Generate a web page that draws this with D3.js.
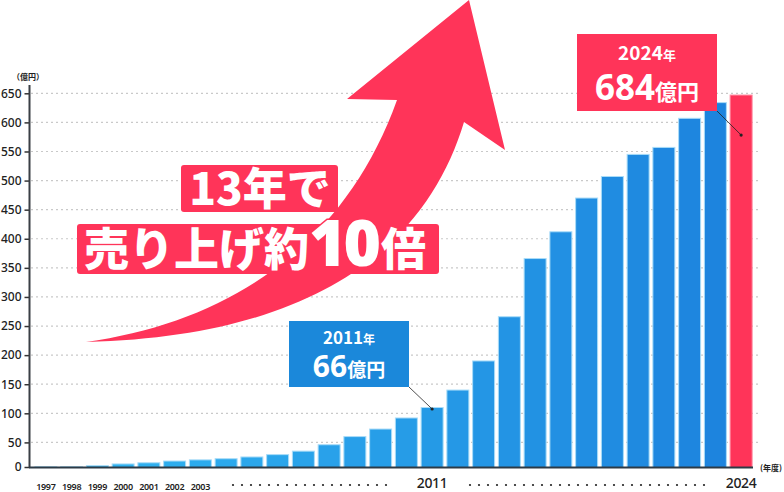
<!DOCTYPE html>
<meta charset="utf-8">
<head>
	<title>売上推移</title>
</head>

<style>
body {
	margin: 0;
	background: #fff;
}
svg {
	display: block;
	font-family: "Noto Sans CJK JP", "Noto Sans", sans-serif;
}
.grid line {
	stroke: #c9c9c9;
	stroke-width: 1.2;
	stroke-dasharray: 2, 3;
}
</style>

<body>
<svg id="chart" width="784" height="492"></svg>

<script src="https://cdnjs.cloudflare.com/ajax/libs/d3/7.8.5/d3.min.js"></script>
<script>

// 年度ごとの売上（目盛り上の値）
var years = ['1997', '1998', '1999', '2000', '2001', '2002', '2003', '2004', '2005', '2006',
	'2007', '2008', '2009', '2010', '2011', '2012', '2013', '2014', '2015', '2016',
	'2017', '2018', '2019', '2020', '2021', '2022', '2023', '2024'];
var sales = [8, 8, 10, 13, 15, 18, 20, 22, 25, 29,
	35, 46, 60, 73, 92, 110, 140, 190, 266, 366,
	412, 470, 507, 545, 557, 607, 634, 647];

var yTicks = [0, 50, 100, 150, 200, 250, 300, 350, 400, 450, 500, 550, 600, 650];

// x軸に出すラベルと、その下に置く棒の番号
var tickText = ['1997', '1998', '1999', '2000', '2001', '2002', '2003', '2011', '2024'];
var tickIdx = [0, 1, 2, 3, 4, 5, 6, 15, 27];

var red = '#ff3459';
var svg = d3.select('#chart');

var x = d3.scaleBand()
	.domain(years)
	.range([33, 754])
	.paddingInner(0.146)
	.paddingOuter(0.073);

var y = d3.scaleLinear()
	.domain([0, 650])
	.range([471.5, 93.3]);

var baseY = 467.5;

// グリッド線
svg.append('g')
	.classed('grid', true)
	.selectAll('line')
	.data(yTicks.filter(function(d) { return d > 0; }))
	.enter()
	.append('line')
	.attr('x1', 31)
	.attr('x2', 758)
	.attr('y1', function(d) { return y(d); })
	.attr('y2', function(d) { return y(d); });

// 右上がりの矢印
svg.append('path')
	.attr('d', 'M86,342 C230,322 345,245 397,100 L347,99 L469,0 L505,150 L464,122 C430,235 330,336 86,342 Z')
	.style('fill', red);

// 棒
var blue = d3.interpolateRgb('#31b7f2', '#1d84de');
svg.append('g')
	.selectAll('rect')
	.data(sales)
	.enter()
	.append('rect')
	.attr('x', function(d, i) { return x(years[i]); })
	.attr('width', x.bandwidth())
	.attr('y', function(d) { return y(d); })
	.attr('height', function(d) { return baseY - y(d); })
	.style('fill', function(d, i) {
		return i === years.length - 1 ? red : blue(i / (years.length - 2));
	})
	.style('stroke', function(d, i) {
		return i === years.length - 1 ? '#ff8aa0' : '#a9dcf8';
	})
	.style('stroke-width', 1);

// y軸
var yAxis = svg.append('g')
	.attr('transform', 'translate(29.5,0)')
	.call(d3.axisLeft(y).tickValues(yTicks).tickSize(5).tickPadding(3));
yAxis.select('.domain').remove();
yAxis.selectAll('.tick')
	.filter(function(d) { return d === 0; })
	.attr('transform', 'translate(0,' + baseY + ')');
yAxis.selectAll('.tick line').style('stroke', '#333').style('stroke-width', 1.5);
yAxis.selectAll('.tick text')
	.style('font-family', '"Noto Sans", sans-serif')
	.style('font-size', '12px')
	.style('font-weight', 500)
	.style('fill', '#222');

svg.append('line')
	.attr('x1', 29.5).attr('x2', 29.5)
	.attr('y1', 85).attr('y2', baseY)
	.style('stroke', '#3a3f45')
	.style('stroke-width', 2);

svg.append('line')
	.attr('x1', 29).attr('x2', 753)
	.attr('y1', baseY).attr('y2', baseY)
	.style('stroke', '#2c3a46')
	.style('stroke-width', 2.2);

svg.append('text')
	.attr('x', 28).attr('y', 80)
	.attr('text-anchor', 'middle')
	.style('font-size', '8px')
	.style('font-weight', 700)
	.style('fill', '#222')
	.text('（億円）');

svg.append('text')
	.attr('x', 782).attr('y', 471)
	.attr('text-anchor', 'end')
	.style('font-size', '8px')
	.style('font-weight', 700)
	.style('fill', '#222')
	.text('(年度)');

// x軸ラベル
svg.append('g')
	.selectAll('text')
	.data(tickText)
	.enter()
	.append('text')
	.attr('x', function(d, i) { return x(years[tickIdx[i]]) + x.bandwidth() / 2; })
	.attr('y', function(d, i) { return i < 7 ? 490 : 488; })
	.attr('text-anchor', 'middle')
	.style('font-family', '"Noto Sans", sans-serif')
	.style('font-size', function(d, i) { return i < 7 ? '9px' : '14px'; })
	.style('font-weight', function(d, i) { return i < 7 ? 600 : 500; })
	.style('letter-spacing', '-0.3px')
	.style('fill', '#222')
	.text(function(d) { return d; });

// 省略の点線
function dotRow(x0, x1) {
	svg.append('g')
		.selectAll('circle')
		.data(d3.range(x0, x1 + 0.1, 9))
		.enter()
		.append('circle')
		.attr('cx', function(d) { return d; })
		.attr('cy', 485)
		.attr('r', 1.1)
		.style('fill', '#222');
}
dotRow(233, 386);
dotRow(470, 704);

// 吹き出し
function callout(bx, by, bw, bh, color, year, value, tx, ty) {
	var g = svg.append('g');
	g.append('line')
		.attr('x1', bx + bw).attr('y1', by + bh)
		.attr('x2', tx).attr('y2', ty)
		.style('stroke', '#222')
		.style('stroke-width', 0.8);
	g.append('circle')
		.attr('cx', tx).attr('cy', ty).attr('r', 1.6)
		.style('fill', '#222');
	g.append('rect')
		.attr('x', bx).attr('y', by)
		.attr('width', bw).attr('height', bh)
		.style('fill', color);
	var big = bh > 70;
	var t1 = g.append('text')
		.attr('x', bx + bw / 2)
		.attr('y', by + (big ? 26 : 23))
		.attr('text-anchor', 'middle')
		.style('fill', '#fff')
		.style('font-weight', 700);
	t1.append('tspan').style('font-size', big ? '19px' : '17px').text(year);
	t1.append('tspan').style('font-size', big ? '13px' : '12px').text('年');
	var t2 = g.append('text')
		.attr('x', bx + bw / 2)
		.attr('y', by + (big ? 66 : 56))
		.attr('text-anchor', 'middle')
		.style('fill', '#fff')
		.style('font-weight', 700);
	t2.append('tspan')
		.style('font-family', '"Noto Sans", sans-serif')
		.style('font-size', big ? '35px' : '30px')
		.text(value);
	t2.append('tspan').style('font-size', big ? '22px' : '19px').text('億円');
}

var i11 = 15, i24 = years.length - 1;
callout(289, 321, 120, 66, '#1b88da', '2011', '66',
	x(years[i11]) + x.bandwidth() / 2, y(sales[i11]) + 1.5);
callout(577, 34, 140, 77, red, '2024', '684',
	x(years[i24]) + x.bandwidth() / 2, y(sales[i24]) + 40);

// 見出し
svg.append('rect')
	.attr('x', 181).attr('y', 165).attr('width', 157).attr('height', 47)
	.attr('rx', 3)
	.style('fill', red);
svg.append('text')
	.attr('x', 260).attr('y', 205)
	.attr('text-anchor', 'middle')
	.style('fill', '#fff')
	.style('font-size', '44px')
	.style('font-weight', 900)
	.text('13年で');

svg.append('rect')
	.attr('x', 77).attr('y', 224).attr('width', 362).attr('height', 50)
	.attr('rx', 3)
	.style('fill', red);
var head = svg.append('text')
	.attr('x', 84).attr('y', 266)
	.style('fill', '#fff')
	.style('font-weight', 900)
	.style('paint-order', 'stroke')
	.style('stroke', red)
	.style('stroke-width', 3);
head.append('tspan').style('font-size', '45px').text('売り上げ約');
head.append('tspan')
	.style('font-family', '"Noto Sans", sans-serif')
	.style('font-size', '64px')
	.style('letter-spacing', '-3px')
	.text('10');
head.append('tspan').attr('dx', 3).style('font-size', '45px').text('倍');

</script>

</body>
</html>
